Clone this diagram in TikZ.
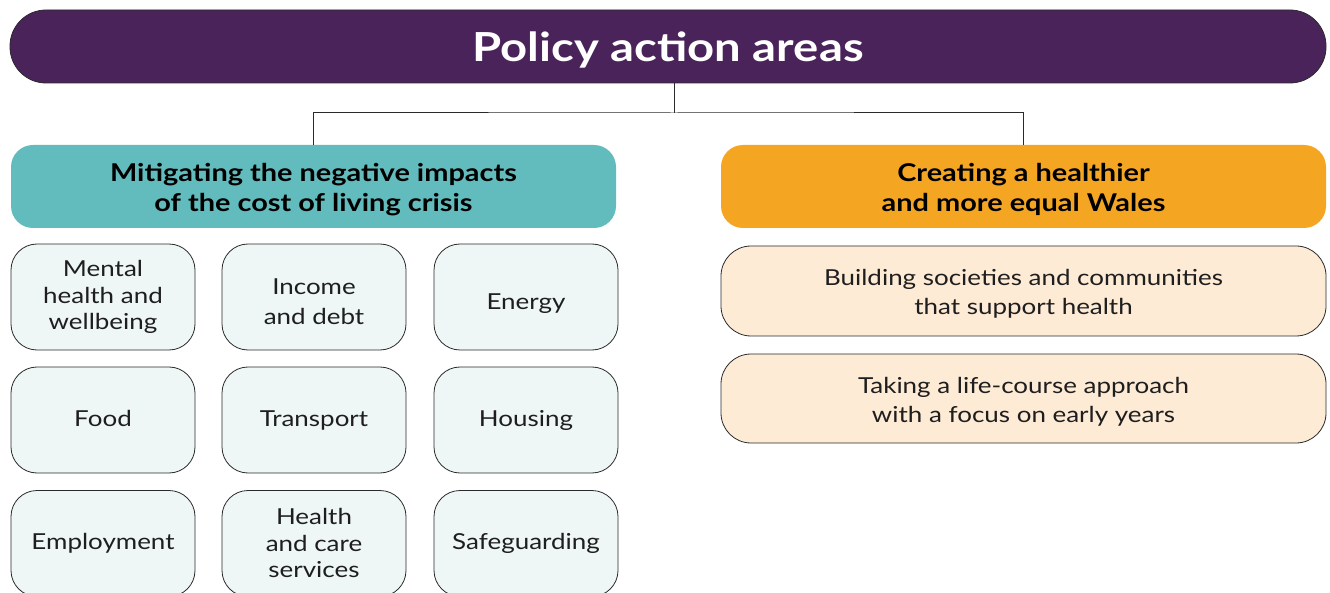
\documentclass[tikz,border=0pt]{standalone}
\usepackage{fontspec}
\setmainfont{Lato}[FakeStretch=1.18]
\definecolor{titlepurple}{HTML}{4A235A}
\definecolor{tealhead}{HTML}{62BBBD}
\definecolor{orangehead}{HTML}{F4A623}
\definecolor{tealpale}{HTML}{EEF7F6}
\definecolor{creampale}{HTML}{FDEBD6}
\definecolor{edge}{HTML}{2A2A2A}
\definecolor{ink}{HTML}{1E1E1E}
% centred block of lines with strut-based spacing, lowered by an optional amount
\newcommand\lines[2][0pt]{%
  \raisebox{-#1}[\height][\depth]{\begin{tabular}{@{}c@{}}#2\end{tabular}}}
\tikzset{
  titlebar/.style={rectangle, rounded corners=36pt, fill=titlepurple, draw=edge, line width=0.8pt,
    minimum width=1316pt, minimum height=73pt, inner sep=0pt, text=white,
    font=\fontsize{40}{46}\selectfont\bfseries},
  headbox/.style={rectangle, rounded corners=22pt, minimum width=605pt, minimum height=83pt,
    inner sep=0pt, text=black, font=\fontsize{24.5}{30}\selectfont\bfseries},
  areabox/.style={rectangle, rounded corners=26pt, fill=tealpale, draw=edge, line width=0.8pt,
    minimum width=184pt, minimum height=106pt, inner sep=0pt, text=ink,
    font=\fontsize{22}{26.5}\selectfont},
  themebox/.style={rectangle, rounded corners=30pt, fill=creampale, draw=edge, line width=0.8pt,
    minimum width=605pt, inner sep=0pt, text=ink, font=\fontsize{22}{29}\selectfont},
  link/.style={draw=edge, line width=1pt}
}
\begin{document}
\begin{tikzpicture}[x=1pt, y=-1pt]
  \useasboundingbox (0,0) rectangle (1330,593);
  \clip (0,0) rectangle (1330,593);

  % top banner
  \node[titlebar] (title) at (668,46.5) {\lines[6.3pt]{Policy action areas}};

  % two policy strands
  \node[headbox, fill=tealhead] (teal) at (313.5,186.5)
    {\lines[4.5pt]{Mitigating the negative impacts\\of the cost of living crisis}};
  \node[headbox, fill=orangehead] (orange) at (1023.5,186.5)
    {\lines[4.5pt]{Creating a healthier\\and more equal Wales}};

  % tree connector
  \coordinate (hub) at (674,113);
  \draw[link] (title.south -| hub) -- (hub);
  \draw[link] (teal.north) |- (hub) -| (orange.north);

  % cost of living areas
  \node[areabox] (mental) at (103,297) {\lines[1.2pt]{Mental\\health and\\wellbeing}};
  \node[areabox, font=\fontsize{22}{30}\selectfont] (income) at (314,297)
    {\lines[7pt]{Income\\and debt}};
  \node[areabox] (energy) at (526,297) {\lines[7.7pt]{Energy}};
  \node[areabox] (food) at (103,420) {\lines[1.5pt]{Food}};
  \node[areabox] (transport) at (314,420) {\lines[1pt]{Transport}};
  \node[areabox] (housing) at (526,420) {\lines[1pt]{Housing}};
  \node[areabox] (employment) at (103,543.5) {\lines[0.5pt]{Employment}};
  \node[areabox] (healthcare) at (314,543.5) {\lines[2.5pt]{Health\\and care\\services}};
  \node[areabox] (safeguarding) at (526,543.5) {\lines[0.5pt]{Safeguarding}};

  % healthier Wales themes
  \node[themebox, minimum height=90pt] (societies) at (1023.5,291)
    {\lines[3.7pt]{Building societies and communities\\that support health}};
  \node[themebox, minimum height=89pt] (lifecourse) at (1023.5,398.5)
    {\lines[3.2pt]{Taking a life-course approach\\with a focus on early years}};
\end{tikzpicture}
\end{document}
